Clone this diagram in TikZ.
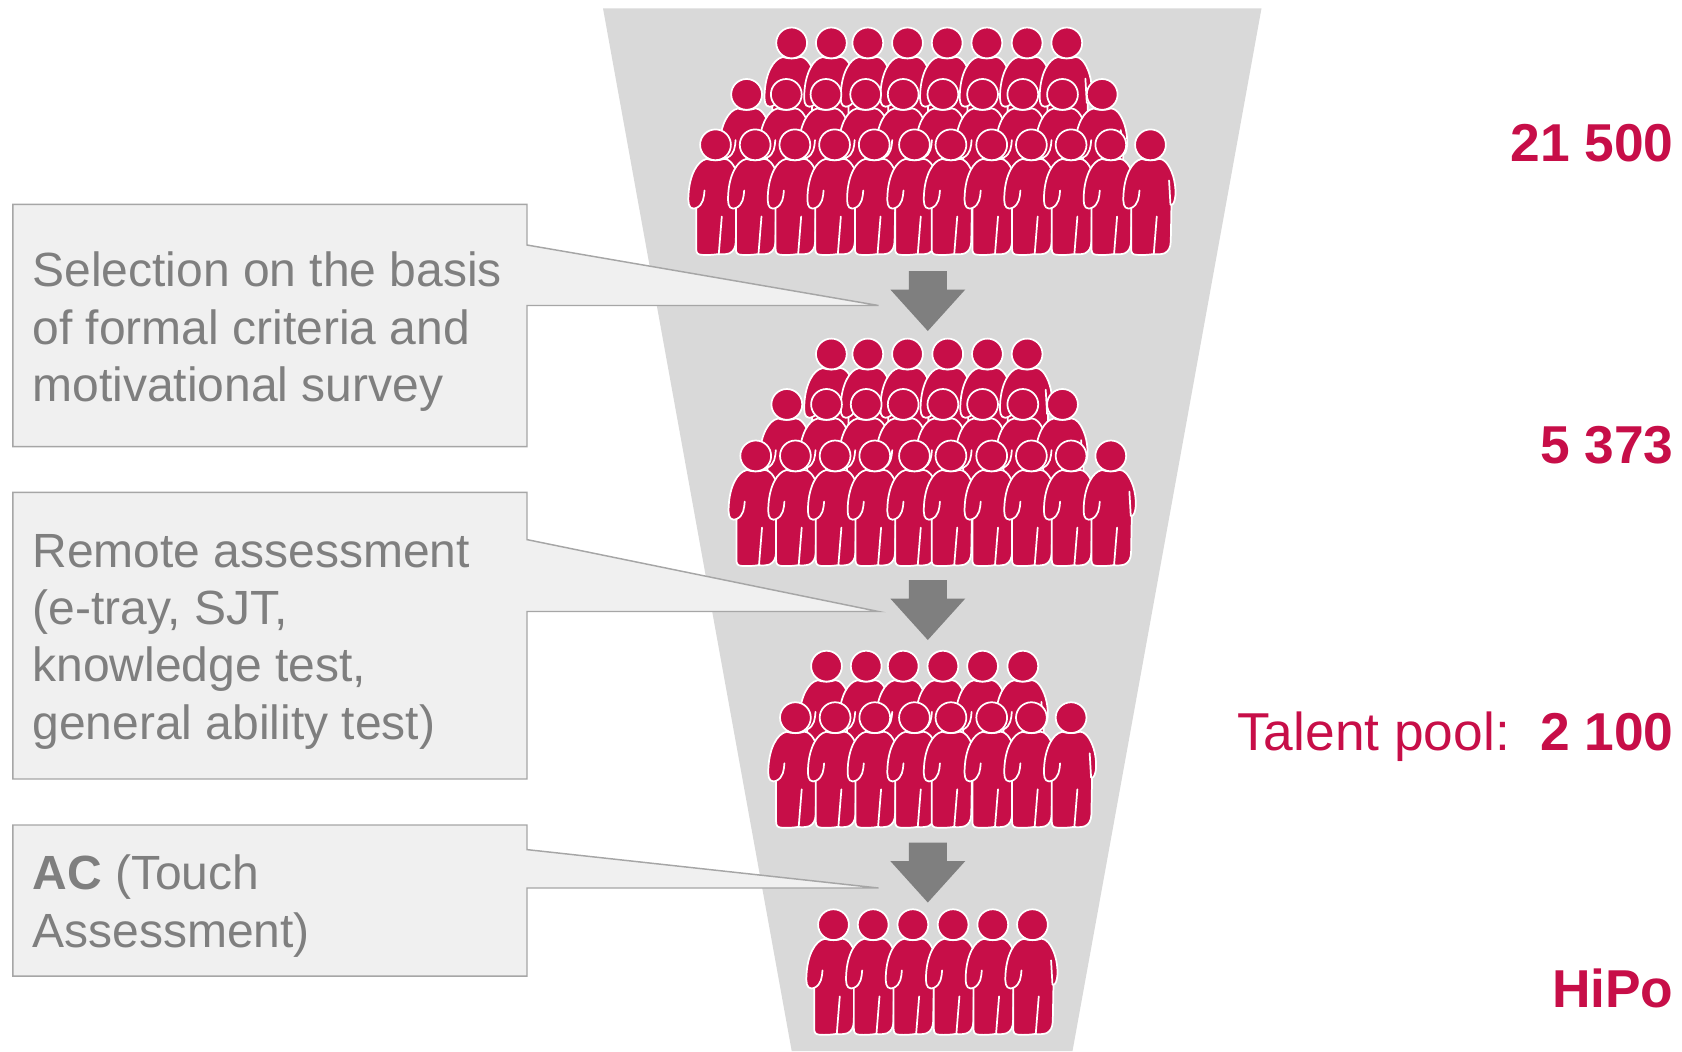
\documentclass[tikz,border=0pt]{standalone}
\usepackage{fontspec}
\setmainfont{Liberation Sans}
\definecolor{crim}{HTML}{C70E48}
\definecolor{funnelgray}{HTML}{D9D9D9}
\definecolor{boxfill}{HTML}{F0F0F0}
\definecolor{boxline}{HTML}{A6A6A6}
\definecolor{txtgray}{HTML}{7F7F7F}
\tikzset{
  person/.pic={
    \path[fill=crim,draw=white,line width=1.3pt,line join=round]
      (-9.3,14.3) .. controls (-18,16) and (-26,30) .. (-27,50)
      .. controls (-27.5,58) and (-27,63.5) .. (-22,63.8)
      .. controls (-21,63.8) and (-20,63.5) .. (-19.3,63.2)
      -- (-19.3,104) .. controls (-19.3,108) and (-18,109.8) .. (-14,110)
      .. controls (-8,110.5) and (-2,110) .. (2.5,109.3)
      .. controls (7,109.8) and (11,109.5) .. (14,108.5)
      .. controls (18,106.5) and (20,103) .. (20.3,97)
      -- (21,60) .. controls (23,60) and (24.5,56) .. (25,50)
      .. controls (25.5,36) and (21,24) .. (16,18)
      .. controls (13,15) and (11,14) .. (9,14)
      .. controls (3,16) and (-3,16) .. (-9.3,14) -- cycle;
    \path[fill=crim,draw=white,line width=1.3pt] (0,0) circle[radius=15.4];
    \draw[white,line width=1.3pt,line cap=round]
      (-11,45.7) .. controls (-11.5,52) and (-12,60) .. (-19.3,63.2);
    \draw[white,line width=1.3pt,line cap=round] (6.3,71.7) -- (3.3,109);
    \draw[white,line width=1.3pt,line cap=round] (18.6,35.7) -- (20,60);
  },
  downarrow/.pic={
    \path[fill=txtgray] (-19,0) -- (19,0) -- (19,18.5) -- (37.5,18.5) -- (0,60) -- (-37.5,18.5) -- (-19,18.5) -- cycle;
  },
  callout/.style={fill=boxfill,draw=boxline,line width=1.1pt,line join=miter},
  calltext/.style={anchor=north west,inner sep=0pt,outer sep=0pt,align=left,text=txtgray,font=\fontsize{36}{43}\selectfont},
  numtext/.style={anchor=base east,inner sep=0pt,outer sep=0pt,text=crim,font=\fontsize{40}{46}\selectfont},
}
\begin{document}
\begin{tikzpicture}[x=0.75pt,y=-0.75pt]
\useasboundingbox (0,0) rectangle (1682,1051);
\path[fill=funnelgray] (603,8.3) -- (1261.5,8.3) -- (1072.5,1051) -- (791.7,1051) -- cycle;

% arrows
\pic at (927.8,271) {downarrow};
\pic at (927.8,580) {downarrow};
\pic at (927.8,842.5) {downarrow};

% people
\foreach \y/\xs in {
  40/{738,775,809,846,883,920,957.5,994.5},
  88/{696,733,770,807,842,879,916,953.5,990.5,1027.5},
  135/{667,704,741,778,815,852.5,886.5,924.5,961.5,998.5,1035.5,1072.5},
  330/{775,809,846,883.5,920.5,957.5},
  377/{733.5,770.5,807.5,842,879,916,953.5,990.5},
  425/{704.5,741.5,778.5,815.5,852.5,886.5,924.5,961.5,998.5,1035.5},
  621/{770.5,807.5,842,879,916,953.5},
  669/{741.5,778.5,815.5,852.5,886.5,924.5,961.5,998.5},
  862/{777,814,851,888.5,925.5,962.5}}{
  \foreach \x in \xs { \pic at ({\x*1.0727},{\y*1.0727}) {person}; }
}

% callouts
\coordinate (a1) at (12.9,204.3);
\coordinate (a2) at (527,204.3);
\coordinate (a3) at (527,245);
\coordinate (a4) at (878.5,305.5);
\coordinate (a5) at (527,305.5);
\coordinate (a6) at (527,446.7);
\coordinate (a7) at (12.9,446.7);
\draw[callout] (a1) -- (a2) -- (a3) -- (a4) -- (a5) -- (a6) -- (a7) -- cycle;
\coordinate (b1) at (12.9,492.4);
\coordinate (b2) at (527,492.4);
\coordinate (b3) at (527,539.6);
\coordinate (b4) at (878.5,611.5);
\coordinate (b5) at (527,611.5);
\coordinate (b6) at (527,779);
\coordinate (b7) at (12.9,779);
\draw[callout] (b1) -- (b2) -- (b3) -- (b4) -- (b5) -- (b6) -- (b7) -- cycle;
\coordinate (c1) at (12.9,825);
\coordinate (c2) at (527,825);
\coordinate (c3) at (527,849.6);
\coordinate (c4) at (878.5,888);
\coordinate (c5) at (527,888);
\coordinate (c6) at (527,976);
\coordinate (c7) at (12.9,976);
\draw[callout] (c1) -- (c2) -- (c3) -- (c4) -- (c5) -- (c6) -- (c7) -- cycle;

\node[calltext] (ta) at (32.4,252) {Selection on the basis\\of formal criteria and\\motivational survey};
\node[calltext] (tb) at (32.4,534.2) {Remote assessment\\(e-tray, SJT,\\knowledge test,\\general ability test)};
\node[calltext] (tc) at (32.4,855) {\textbf{AC} (Touch\\Assessment)};

\node[numtext] (n1) at (1673.5,161) {\textbf{21 500}};
\node[numtext] (n2) at (1673.5,463.4) {\textbf{5 373}};
\node[numtext] (n3) at (1673.5,750) {\textbf{2 100}};
\node[numtext] (n3l) at (1510,750) {Talent pool:};
\node[numtext] (n4) at (1673.5,1007) {\textbf{HiPo}};
\end{tikzpicture}
\end{document}
